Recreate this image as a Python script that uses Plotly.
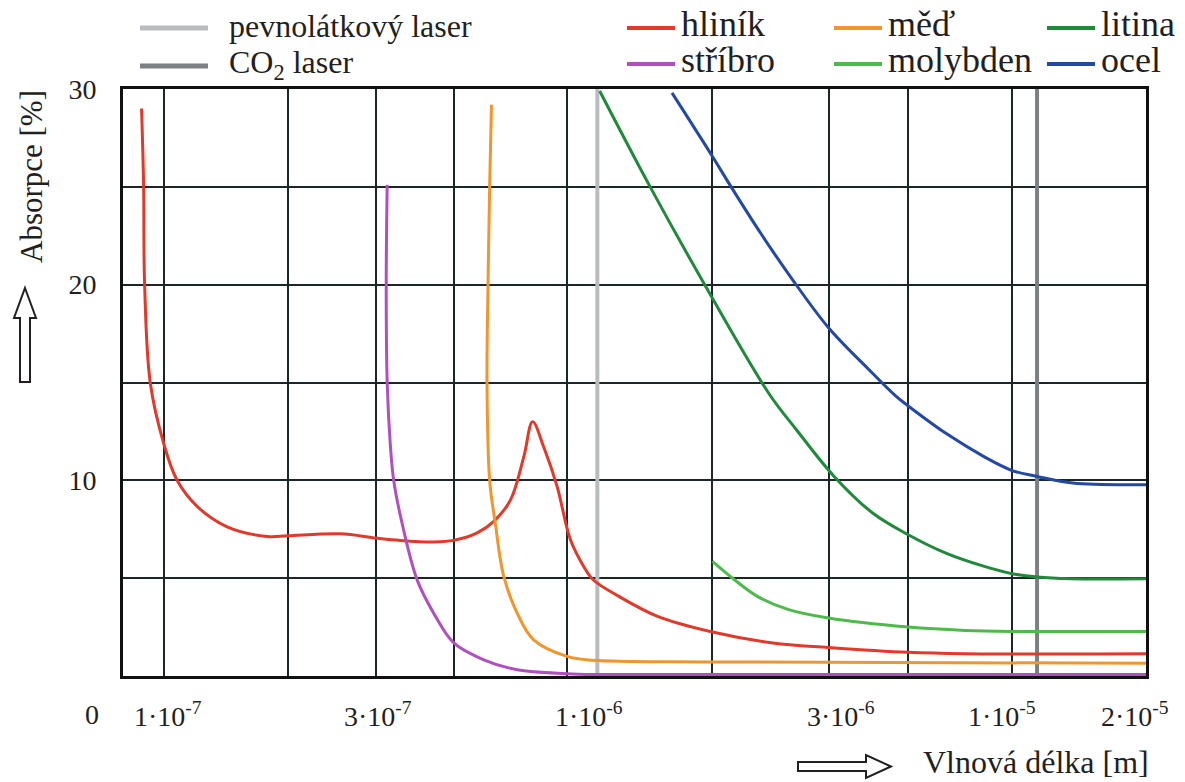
import numpy as np
import plotly.graph_objects as go

# ---------------- data ----------------
# The source chart uses a hand-drawn, non-uniform logarithmic wavelength axis.
# Calibration of that axis: wavelength [m] -> position along the axis (axis units)
AXIS_WL = [7e-8, 1e-7, 2e-7, 3e-7, 5e-7, 1e-6, 2e-6, 3e-6, 5e-6, 1e-5, 2e-5]
AXIS_POS = [0.0, 40.6, 165.0, 253.3, 331.3, 444.0, 589.3, 705.3, 785.0, 888.8, 1022.7]

TICK_WL = [1e-7, 3e-7, 1e-6, 3e-6, 1e-5, 2e-5]
TICK_TEXT = ["1·10<sup>-7</sup>", "3·10<sup>-7</sup>", "1·10<sup>-6</sup>",
             "3·10<sup>-6</sup>", "1·10<sup>-5</sup>", "2·10<sup>-5</sup>"]

Y_TICKS = [0, 5, 10, 15, 20, 25, 30]
Y_TEXT = ["", "", "10", "", "20", "", "30"]

hlinik_wl = [8.24e-8, 8.39e-8, 8.46e-8, 8.89e-8, 1.0e-7, 1.078e-7, 1.205e-7, 1.42e-7,
             1.78e-7, 2.0e-7, 2.54e-7, 3.0e-7, 3.51e-7, 4.37e-7, 4.98e-7, 5.75e-7,
             6.37e-7, 7.06e-7, 7.66e-7, 8.09e-7, 8.66e-7, 9.4e-7, 1.016e-6, 1.082e-6,
             1.132e-6, 1.28e-6, 1.539e-6, 2.0e-6, 2.47e-6, 3.0e-6, 5.0e-6, 7.31e-6, 2.0e-5]
hlinik_abs = [29.0, 25.0, 20.1, 15.0, 11.9, 10.0, 8.67, 7.64,
              7.13, 7.17, 7.27, 7.05, 6.93, 6.85, 6.93, 7.31,
              7.9, 9.0, 11.2, 13.0, 11.7, 9.69, 6.96, 5.6,
              4.92, 4.07, 3.05, 2.25, 1.69, 1.46, 1.21, 1.14, 1.14]

med_wl = [6.28e-7, 6.21e-7, 6.15e-7, 6.11e-7, 6.21e-7, 6.43e-7, 6.77e-7, 7.36e-7,
          8.14e-7, 1.0e-6, 1.13e-6, 2.0e-6, 2.0e-5]
med_abs = [29.2, 25.0, 20.1, 15.0, 10.0, 7.8, 5.1, 3.2, 1.85, 1.0, 0.8, 0.72, 0.65]

stribro_wl = [3.22e-7, 3.2e-7, 3.22e-7, 3.29e-7, 3.36e-7, 3.55e-7, 3.92e-7, 4.37e-7,
              4.98e-7, 5.99e-7, 7.36e-7, 1.0e-6, 1.13e-6, 2.0e-5]
stribro_abs = [25.1, 20.1, 15.0, 11.7, 10.0, 7.8, 4.9, 3.2, 1.69, 0.83, 0.32, 0.12, 0.08, 0.08]

litina_wl = [1.168e-6, 1.482e-6, 1.917e-6, 2.44e-6, 2.68e-6, 3.11e-6, 3.98e-6, 5.0e-6,
             6.43e-6, 8.31e-6, 1.0e-5, 1.138e-5, 1.357e-5, 2.0e-5]
litina_abs = [29.9, 25.05, 20.1, 14.4, 12.6, 10.2, 8.33, 7.22, 6.28, 5.6, 5.23, 5.06, 4.97, 4.97]

molybden_wl = [2.0e-6, 2.16e-6, 2.34e-6, 2.61e-6, 3.0e-6, 5.0e-6, 7.31e-6, 1.0e-5, 2.0e-5]
molybden_abs = [5.86, 4.92, 4.07, 3.39, 2.96, 2.5, 2.33, 2.28, 2.28]

ocel_wl = [1.649e-6, 2.0e-6, 2.13e-6, 2.37e-6, 2.64e-6, 3.0e-6, 3.89e-6, 4.62e-6, 5.0e-6,
           6.43e-6, 8.31e-6, 1.0e-5, 1.138e-5, 1.37e-5, 2.0e-5]
ocel_abs = [29.8, 26.55, 25.05, 22.6, 20.3, 17.8, 15.65, 14.3, 13.8,
            12.4, 11.2, 10.5, 10.2, 9.86, 9.78]

laser_names = ["pevnolátkový laser", "CO<sub>2</sub> laser"]
laser_wl = [1.155e-6, 1.138e-5]

# ---------------- styling ----------------
# this family name resolves to the browser's Times-like serif fallback in the sandbox
FONT = "Liberation Sans Narrow"
TXT = "#231f20"
GRID = "#1b2626"
laser_colors = ["#b9bcbe", "#7d8083"]
materials = [
    ("hliník", hlinik_wl, hlinik_abs, "#e2392a"),
    ("stříbro", stribro_wl, stribro_abs, "#b050c0"),
    ("měď", med_wl, med_abs, "#f0962c"),
    ("molybden", molybden_wl, molybden_abs, "#4dbb4a"),
    ("litina", litina_wl, litina_abs, "#1e8a3a"),
    ("ocel", ocel_wl, ocel_abs, "#2448a6"),
]

# the page body adds an 8 px offset; the figure is sized so the plot lands where the reference has it
OFF = 8
W, H = 1185 - OFF, 782 - OFF
L, T, PW, PH = 123 - OFF, 89 - OFF, 1023, 587


def u(wl):
    """Position of a wavelength on the source's warped log axis."""
    return np.interp(np.log10(np.asarray(wl, dtype=float)), np.log10(AXIS_WL), AXIS_POS)


def pxx(xpix):  # screen pixel -> paper
    return (xpix - OFF - L) / PW


def pyy(ypix):
    return (T + PH - (ypix - OFF)) / PH


fig = go.Figure()

for name, wl, col in zip(laser_names, laser_wl, laser_colors):
    fig.add_trace(go.Scatter(x=u([wl, wl]), y=[0, 30], mode="lines",
                             line=dict(color=col, width=4), name=name, showlegend=False))

for name, wl, ab, col in materials:
    fig.add_trace(go.Scatter(x=u(wl), y=ab, mode="lines", name=name,
                             line=dict(color=col, width=3, shape="spline", smoothing=1.0),
                             showlegend=False))

shapes = []
annotations = []

# x tick labels (placed as in the source, slightly off the grid lines)
tick_shift = [4, 2, 22, 12, -10, -11]
for wl, txt, sh in zip(TICK_WL, TICK_TEXT, tick_shift):
    annotations.append(dict(x=float(u(wl)), xref="x", y=pyy(714), yref="paper",
                            text=txt, showarrow=False, xanchor="center", yanchor="middle",
                            xshift=sh, font=dict(family=FONT, size=28, color=TXT)))
annotations.append(dict(x=pxx(92), xref="paper", y=pyy(714), yref="paper", text="0",
                        showarrow=False, xanchor="center", yanchor="middle",
                        font=dict(family=FONT, size=28, color=TXT)))

# axis titles
annotations.append(dict(x=pxx(31), xref="paper", y=pyy(177), yref="paper",
                        text="Absorpce [%]", textangle=-90, showarrow=False,
                        xanchor="center", yanchor="middle",
                        font=dict(family=FONT, size=31, color=TXT)))
annotations.append(dict(x=pxx(921), xref="paper", y=pyy(762), yref="paper",
                        text="Vlnová délka [m]", showarrow=False,
                        xanchor="left", yanchor="middle",
                        font=dict(family=FONT, size=32, color=TXT)))


def path(points):
    return "M " + " L ".join(f"{pxx(a):.5f},{pyy(b):.5f}" for a, b in points) + " Z"


# hollow arrows next to the axis titles
up_arrow = [(25, 288), (36, 318), (30, 318), (30, 382), (20, 382), (20, 318), (14, 318)]
right_arrow = [(798, 762), (866, 762), (866, 755), (891, 766.5), (866, 778), (866, 771), (798, 771)]
for pts in (up_arrow, right_arrow):
    shapes.append(dict(type="path", xref="paper", yref="paper", path=path(pts),
                       line=dict(color=TXT, width=2), fillcolor="white"))

# legend: lasers
for i, (name, col) in enumerate(zip(laser_names, laser_colors)):
    yy = 28 + i * 38
    shapes.append(dict(type="line", xref="paper", yref="paper",
                       x0=pxx(140), x1=pxx(208), y0=pyy(yy), y1=pyy(yy),
                       line=dict(color=col, width=5)))
    annotations.append(dict(x=pxx(227), xref="paper", y=pyy(yy - 2), yref="paper",
                            text=name, showarrow=False, xanchor="left", yanchor="middle",
                            font=dict(family=FONT, size=32, color=TXT)))

# legend: materials (3 columns x 2 rows)
col_x = [627, 834, 1047]
for k, (name, wl, ab, col) in enumerate(materials):
    cx = col_x[k // 2]
    yy = 28 + (k % 2) * 36
    shapes.append(dict(type="line", xref="paper", yref="paper",
                       x0=pxx(cx), x1=pxx(cx + 48), y0=pyy(yy), y1=pyy(yy),
                       line=dict(color=col, width=4)))
    annotations.append(dict(x=pxx(cx + 52), xref="paper", y=pyy(yy - 4), yref="paper",
                            text=name, showarrow=False, xanchor="left", yanchor="middle",
                            font=dict(family=FONT, size=36, color=TXT)))

grid_pos = [float(p) for p in u(AXIS_WL[1:-1])]

fig.update_layout(
    width=W, height=H,
    margin=dict(l=L, r=W - L - PW, t=T, b=H - T - PH),
    paper_bgcolor="white", plot_bgcolor="white",
    showlegend=False,
    font=dict(family=FONT, color=TXT),
    shapes=shapes, annotations=annotations,
    xaxis=dict(range=[AXIS_POS[0], AXIS_POS[-1]], tickvals=grid_pos,
               showticklabels=False, ticks="", showgrid=True, gridcolor=GRID, gridwidth=2,
               zeroline=False, showline=True, linecolor="#111", linewidth=3, mirror=True),
    yaxis=dict(range=[0, 30], tickvals=Y_TICKS, ticktext=Y_TEXT, ticks="",
               ticklabelstandoff=18,
               tickfont=dict(family=FONT, size=28, color=TXT),
               showgrid=True, gridcolor=GRID, gridwidth=2, zeroline=False,
               showline=True, linecolor="#111", linewidth=3, mirror=True),
)

fig.write_html("out.html")
